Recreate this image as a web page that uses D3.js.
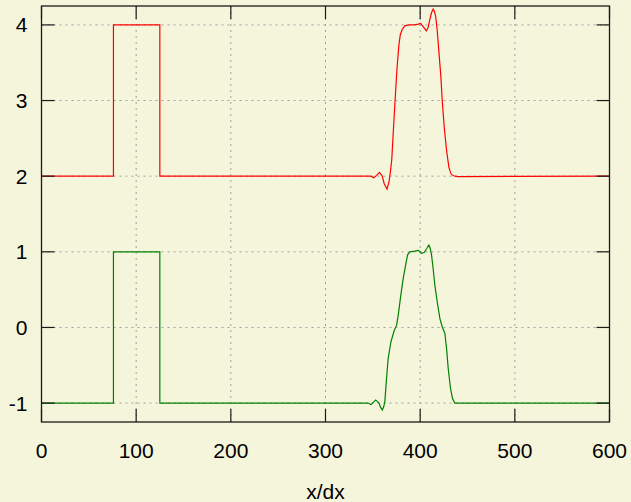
<!DOCTYPE html>
<html>
<meta charset="utf-8">
<title>x/dx</title>
<style>
body, html { margin: 0; padding: 0; background: #f5f5dc; }
#chart { width: 631px; height: 502px; }
.grid line { stroke: #a0a0a0; stroke-width: 1; stroke-dasharray: 2,4; }
.tick_text { font-family: 'Liberation Sans', Arial, sans-serif; font-size: 21px; fill: #000; }
.frame { fill: none; stroke: #1a1a1a; stroke-width: 1.3; }
.ticks line { stroke: #1a1a1a; stroke-width: 1.2; }
</style>
<script src="https://cdnjs.cloudflare.com/ajax/libs/d3/7.8.5/d3.min.js"></script>
<body>
<div id="chart"></div>
<script>

// tick values
var x_ticks = [0, 100, 200, 300, 400, 500, 600];
var y_ticks = [-1, 0, 1, 2, 3, 4];

// upper (red) series
var red_x = [0, 76, 76, 125, 125, 345, 348, 351, 354, 357, 360, 362, 365, 367, 368.5,
             370, 371.5, 373.5, 375.5, 377.5, 379, 381, 384, 389, 394, 398, 400.5,
             403, 406.5, 408.5, 410, 412, 413.7, 415, 416.3, 418, 419.7, 421.9,
             423.3, 425.4, 427.9, 430.3, 432, 433.2, 436.6, 440, 600];
var red_y = [2, 2, 4, 4, 2, 2, 2.0, 1.98, 2.01, 2.05, 2.0, 1.90, 1.83, 1.92, 2.05,
             2.22, 2.56, 3.0, 3.42, 3.73, 3.87, 3.94, 3.99, 4.0, 4.0, 4.01, 4.02,
             3.98, 3.92, 3.97, 4.06, 4.16, 4.21, 4.18, 4.12, 3.93, 3.66, 3.31,
             3.0, 2.65, 2.34, 2.12, 2.05, 2.02, 2.0, 1.995, 2];

// lower (green) series
var green_x = [0, 76, 76, 125, 125, 345, 348, 350.5, 353, 355, 356.5, 358, 360, 361.5,
               362.7, 364.5, 366.2, 369.1, 372.6, 375.1, 376.8, 379.6, 382.1, 384.6,
               386.7, 389.1, 394.4, 397.9, 400, 401.5, 404.2, 406.8, 409.2, 410.5,
               412, 413.7, 415.5, 418, 420.8, 423.3, 426.1, 427.9, 429.6, 432.1,
               434.2, 436.6, 600];
var green_y = [-1, -1, 1, 1, -1, -1, -1.02, -0.99, -0.96, -0.98, -1.0, -1.05, -1.09, -1.05,
               -0.98, -0.67, -0.41, -0.19, -0.04, 0.03, 0.16, 0.43, 0.65, 0.82,
               0.96, 1.0, 1.01, 1.02, 1.0, 0.98, 0.99, 1.04, 1.09, 1.05,
               0.96, 0.78, 0.56, 0.34, 0.12, 0.01, -0.08, -0.28, -0.54, -0.81,
               -0.94, -1.0, -1];

var margin = { top: 6, right: 21.5, bottom: 80, left: 41.5 };
var width = 631 - margin.left - margin.right;
var height = 502 - margin.top - margin.bottom;

var scale_x = d3.scaleLinear().domain([0, 600]).range([0, width]);
var scale_y = d3.scaleLinear().domain([-1.25, 4.25]).range([height, 0]);

var svg = d3.select("#chart")
            .append("svg")
            .attr("width", 631)
            .attr("height", 502);

svg.append("rect")
   .attr("width", 631)
   .attr("height", 502)
   .attr("fill", "#f5f5dc");

var chart = svg.append("g")
               .attr("transform", "translate(" + margin.left + "," + margin.top + ")");

// dotted grid
var grid = chart.append("g").attr("class", "grid");
grid.selectAll(".gx")
    .data(x_ticks.slice(1, -1))
    .enter()
    .append("line")
    .attr("x1", function(d) { return(scale_x(d)); })
    .attr("x2", function(d) { return(scale_x(d)); })
    .attr("y1", 0)
    .attr("y2", height);
grid.selectAll(".gy")
    .data(y_ticks)
    .enter()
    .append("line")
    .attr("x1", 0)
    .attr("x2", width)
    .attr("y1", function(d) { return(scale_y(d)); })
    .attr("y2", function(d) { return(scale_y(d)); });

// series
var make_line = function(xs) {
  return d3.line()
           .x(function(d, i) { return(scale_x(xs[i])); })
           .y(function(d) { return(scale_y(d)); });
};

chart.append("path")
     .attr("d", make_line(red_x)(red_y))
     .attr("fill", "none")
     .attr("stroke", "#ff0000")
     .attr("stroke-width", 1.2);

chart.append("path")
     .attr("d", make_line(green_x)(green_y))
     .attr("fill", "none")
     .attr("stroke", "#008000")
     .attr("stroke-width", 1.2);

// inward ticks on all four sides
var tick_len = 13;
var ticks = chart.append("g").attr("class", "ticks");
x_ticks.forEach(function(v) {
  ticks.append("line")
       .attr("x1", scale_x(v)).attr("x2", scale_x(v))
       .attr("y1", height).attr("y2", height - tick_len);
  ticks.append("line")
       .attr("x1", scale_x(v)).attr("x2", scale_x(v))
       .attr("y1", 0).attr("y2", tick_len);
});
y_ticks.forEach(function(v) {
  ticks.append("line")
       .attr("x1", 0).attr("x2", tick_len)
       .attr("y1", scale_y(v)).attr("y2", scale_y(v));
  ticks.append("line")
       .attr("x1", width).attr("x2", width - tick_len)
       .attr("y1", scale_y(v)).attr("y2", scale_y(v));
});

chart.append("rect")
     .attr("class", "frame")
     .attr("width", width)
     .attr("height", height);

// tick labels
chart.selectAll(".xl")
     .data(x_ticks)
     .enter()
     .append("text")
     .attr("class", "tick_text")
     .attr("x", function(d) { return(scale_x(d)); })
     .attr("y", height + 36)
     .attr("text-anchor", "middle")
     .text(function(d) { return(d); });

chart.selectAll(".yl")
     .data(y_ticks)
     .enter()
     .append("text")
     .attr("class", "tick_text")
     .attr("x", -14)
     .attr("y", function(d) { return(scale_y(d) + 7.5); })
     .attr("text-anchor", "end")
     .text(function(d) { return(d); });

chart.append("text")
     .attr("class", "tick_text")
     .attr("x", width / 2)
     .attr("y", height + 77)
     .attr("text-anchor", "middle")
     .text("x/dx");

</script>
</body>
</html>
